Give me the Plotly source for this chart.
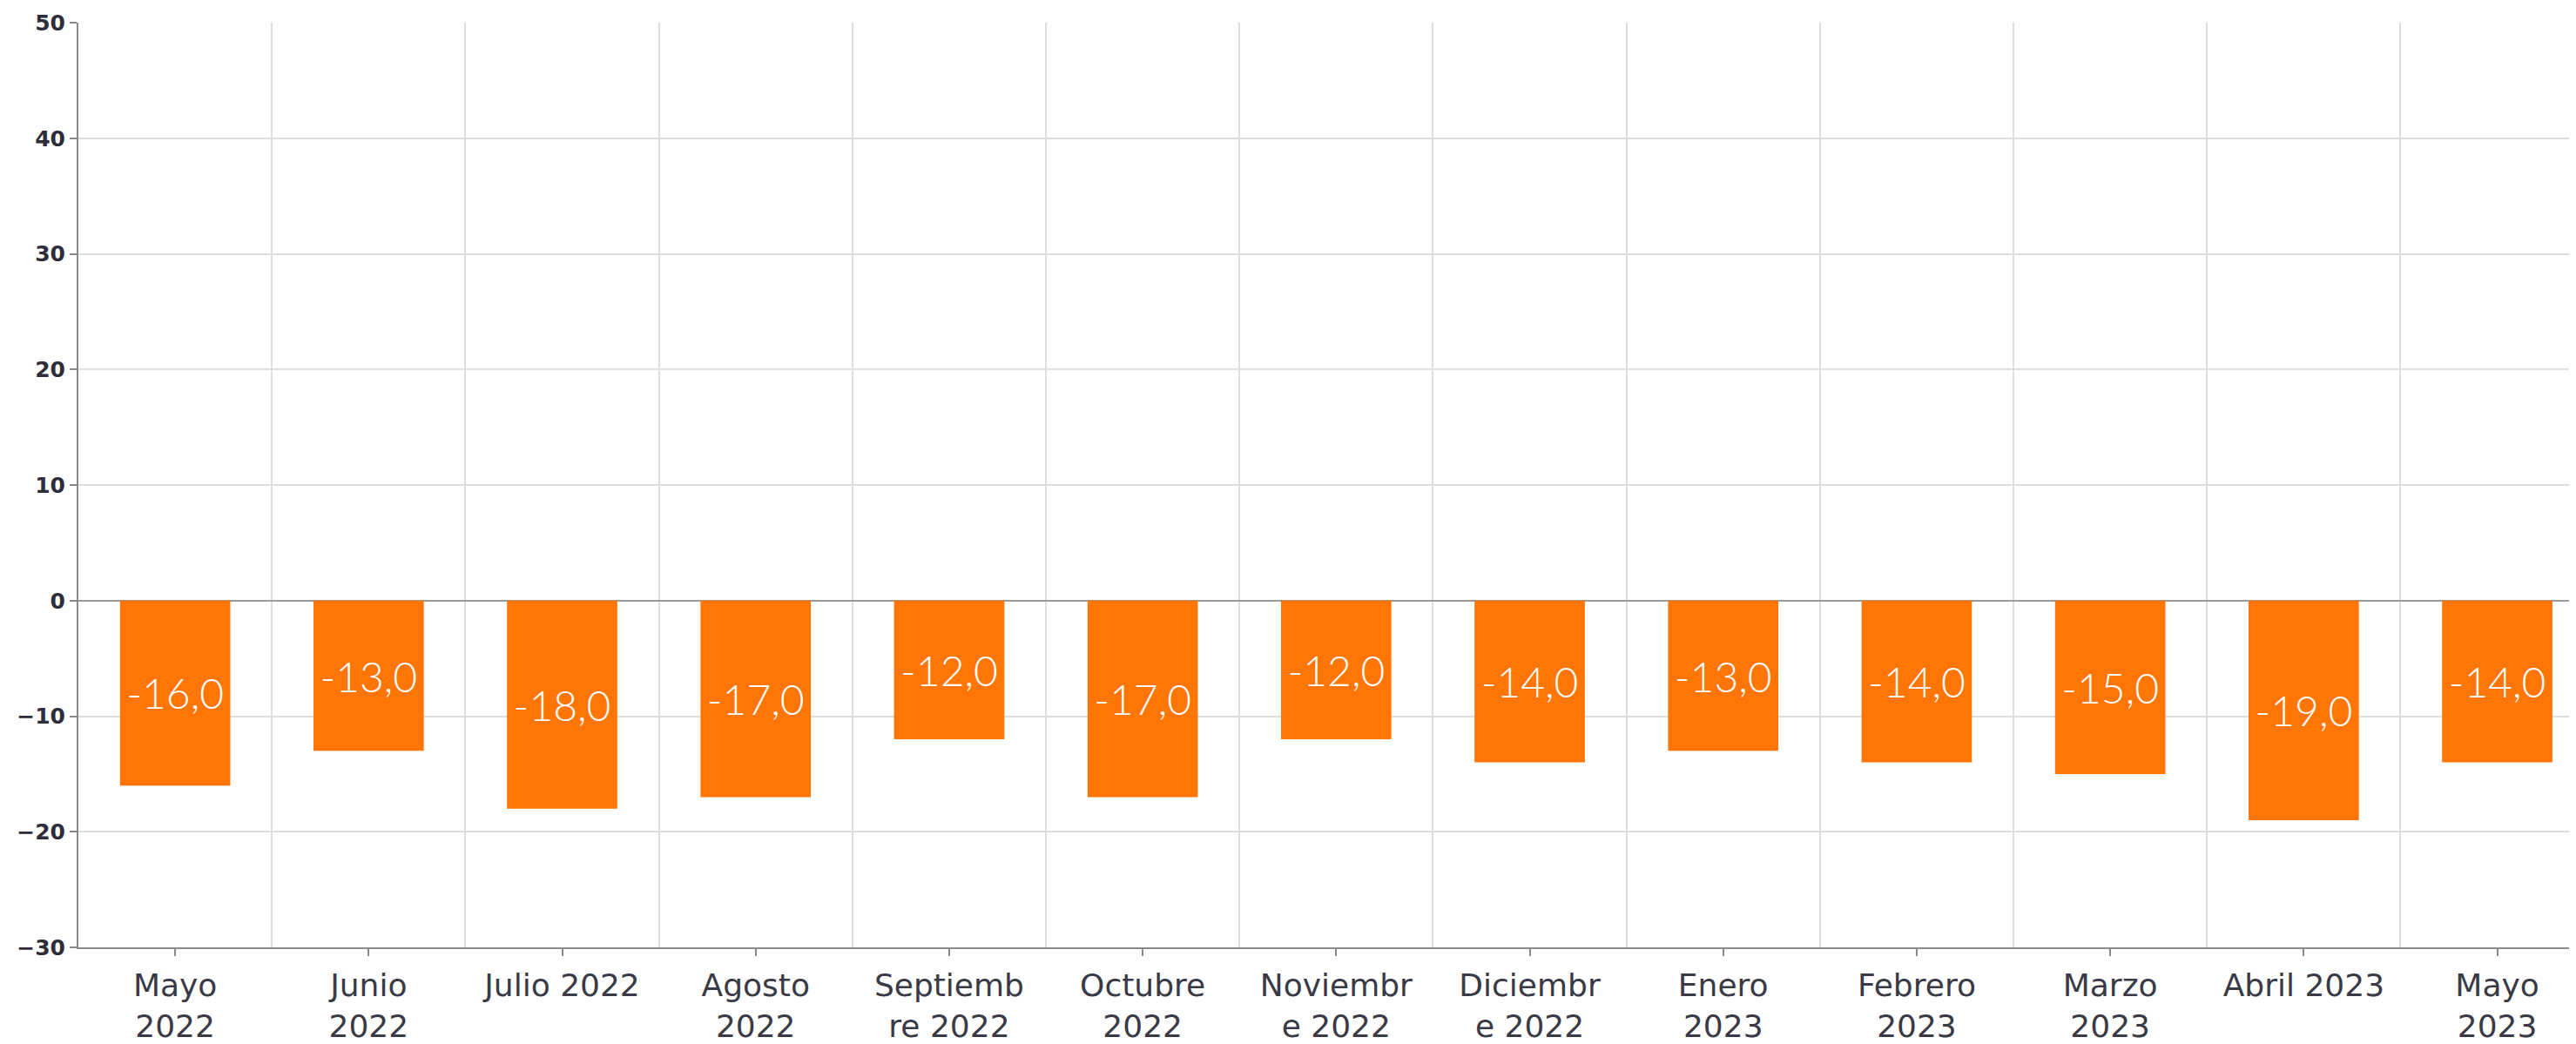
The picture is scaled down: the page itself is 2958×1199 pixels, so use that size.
import plotly.graph_objects as go

categories = ["Mayo<br>2022", "Junio<br>2022", "Julio 2022", "Agosto<br>2022",
              "Septiemb<br>re 2022", "Octubre<br>2022", "Noviembr<br>e 2022",
              "Diciembr<br>e 2022", "Enero<br>2023", "Febrero<br>2023",
              "Marzo<br>2023", "Abril 2023", "Mayo<br>2023"]
values = [-16.0, -13.0, -18.0, -17.0, -12.0, -17.0, -12.0, -14.0, -13.0, -14.0, -15.0, -19.0, -14.0]
y_ticks = [50, 40, 30, 20, 10, 0, -10, -20, -30]

positions = list(range(len(categories)))
boundaries = [p + 0.5 for p in positions[:-1]]

fig = go.Figure()
fig.add_trace(go.Bar(
    x=positions, y=values, width=0.57,
    marker=dict(color="#FF7506", line=dict(width=0)),
    texttemplate="%{y:.1f}", textposition="inside", insidetextanchor="middle",
    textangle=0, constraintext="none",
    textfont=dict(color="white", size=48, family="Lato", weight=300),
    hoverinfo="skip",
))

fig.update_layout(
    width=2950, height=1191,
    margin=dict(l=82, r=0, t=18, b=111),
    paper_bgcolor="white", plot_bgcolor="white",
    separators=",.",
    showlegend=False,
)
fig.update_xaxes(
    range=[-0.5, 12.407], tickmode="array", tickvals=positions, ticktext=categories,
    showgrid=False, zeroline=False, automargin=False,
    showline=True, linecolor="#8a8a8a", linewidth=2,
    ticks="outside", ticklen=8, tickwidth=2, tickcolor="#8a8a8a",
    ticklabelstandoff=3,
    tickfont=dict(size=36, color="#3a3a46", family="DejaVu Sans"),
    minor=dict(tickmode="array", tickvals=boundaries, showgrid=True,
               gridcolor="#dedede", gridwidth=1.5, ticks=""),
)
fig.update_yaxes(
    range=[-30, 50], tickmode="array", tickvals=y_ticks, automargin=False,
    showgrid=True, gridcolor="#dedede", gridwidth=1.5,
    zeroline=True, zerolinecolor="#9a9a9a", zerolinewidth=2,
    showline=True, linecolor="#8a8a8a", linewidth=2,
    ticks="outside", ticklen=8, tickwidth=2, tickcolor="#8a8a8a",
    tickfont=dict(size=25, color="#2e2e3a", family="DejaVu Sans", weight="bold"),
)

fig.write_html("out.html")
